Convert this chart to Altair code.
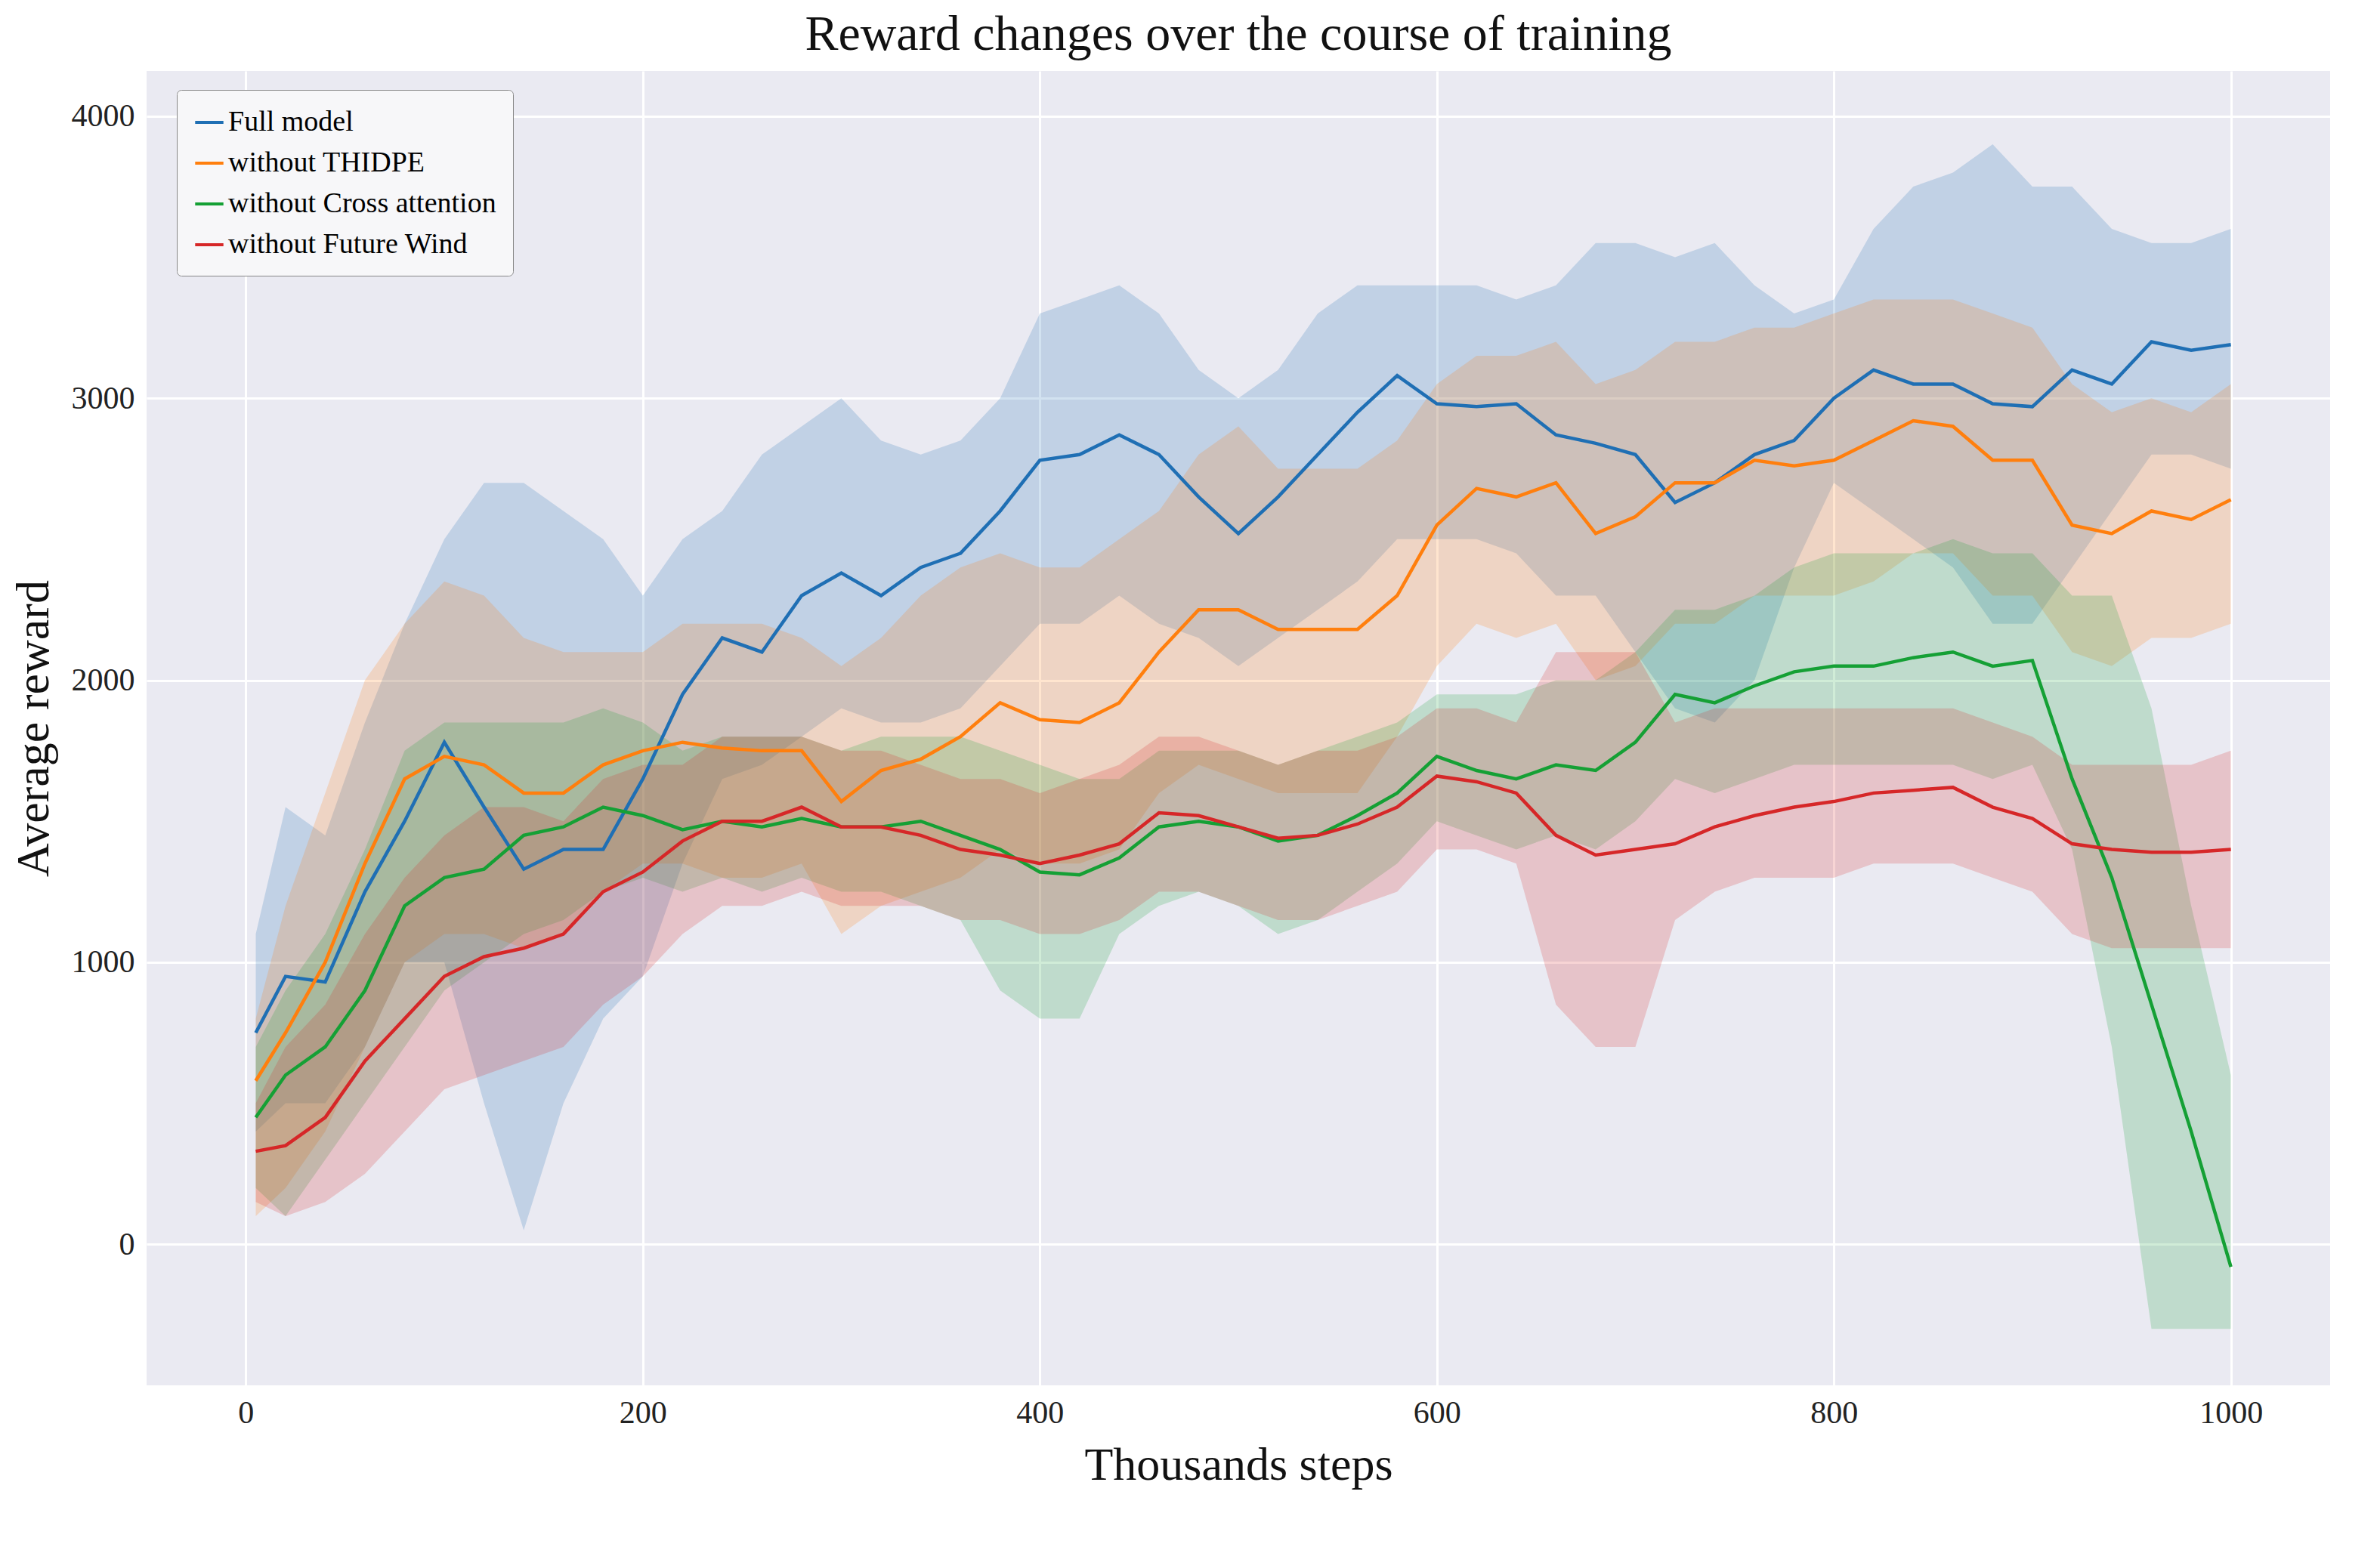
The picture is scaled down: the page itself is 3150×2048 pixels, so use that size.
import altair as alt
import pandas as pd

X = [5,20,40,60,80,100,120,140,160,180,200,220,240,260,280,300,320,340,360,380,400,420,440,460,480,500,
     520,540,560,580,600,620,640,660,680,700,720,740,760,780,800,820,840,860,880,900,920,940,960,980,1000]

full_mean = [750,950,930,1250,1500,1780,1550,1330,1400,1400,1650,1950,2150,2100,2300,2380,2300,2400,2450,2600,2780,2800,2870,2800,2650,2520,
             2650,2800,2950,3080,2980,2970,2980,2870,2840,2800,2630,2700,2800,2850,3000,3100,3050,3050,2980,2970,3100,3050,3200,3170,3190]
full_up = [1100,1550,1450,1850,2200,2500,2700,2700,2600,2500,2300,2500,2600,2800,2900,3000,2850,2800,2850,3000,3300,3350,3400,3300,3100,3000,
           3100,3300,3400,3400,3400,3400,3350,3400,3550,3550,3500,3550,3400,3300,3350,3600,3750,3800,3900,3750,3750,3600,3550,3550,3600]
full_lo = [400,500,500,700,1000,1000,500,50,500,800,950,1350,1650,1700,1800,1900,1850,1850,1900,2050,2200,2200,2300,2200,2150,2050,
           2150,2250,2350,2500,2500,2500,2450,2300,2300,2100,1900,1850,2000,2400,2700,2600,2500,2400,2200,2200,2400,2600,2800,2800,2750]

th_mean = [580,750,1000,1350,1650,1730,1700,1600,1600,1700,1750,1780,1760,1750,1750,1570,1680,1720,1800,1920,1860,1850,1920,2100,2250,2250,
           2180,2180,2180,2300,2550,2680,2650,2700,2520,2580,2700,2700,2780,2760,2780,2850,2920,2900,2780,2780,2550,2520,2600,2570,2640]
th_up = [800,1200,1600,2000,2200,2350,2300,2150,2100,2100,2100,2200,2200,2200,2150,2050,2150,2300,2400,2450,2400,2400,2500,2600,2800,2900,
         2750,2750,2750,2850,3050,3150,3150,3200,3050,3100,3200,3200,3250,3250,3300,3350,3350,3350,3300,3250,3050,2950,3000,2950,3050]
th_lo = [100,200,400,700,1000,1100,1100,1050,1100,1250,1350,1350,1300,1300,1350,1100,1200,1250,1300,1400,1350,1350,1400,1600,1700,1650,
         1600,1600,1600,1800,2050,2200,2150,2200,2000,2050,2200,2200,2300,2300,2300,2350,2450,2450,2300,2300,2100,2050,2150,2150,2200]

ca_mean = [450,600,700,900,1200,1300,1330,1450,1480,1550,1520,1470,1500,1480,1510,1480,1480,1500,1450,1400,1320,1310,1370,1480,1500,1480,
           1430,1450,1520,1600,1730,1680,1650,1700,1680,1780,1950,1920,1980,2030,2050,2050,2080,2100,2050,2070,1650,1300,850,400,-80]
ca_up = [700,900,1100,1400,1750,1850,1850,1850,1850,1900,1850,1750,1800,1800,1800,1750,1800,1800,1800,1750,1700,1650,1650,1750,1750,1750,
         1700,1750,1800,1850,1950,1950,1950,2000,2000,2100,2250,2250,2300,2400,2450,2450,2450,2500,2450,2450,2300,2300,1900,1200,600]
ca_lo = [200,100,300,500,700,900,1000,1100,1150,1250,1300,1250,1300,1250,1300,1250,1250,1200,1150,900,800,800,1100,1200,1250,1200,
         1100,1150,1250,1350,1500,1450,1400,1450,1400,1500,1650,1600,1650,1700,1700,1700,1700,1700,1650,1700,1400,700,-300,-300,-300]

fw_mean = [330,350,450,650,800,950,1020,1050,1100,1250,1320,1430,1500,1500,1550,1480,1480,1450,1400,1380,1350,1380,1420,1530,1520,1480,
           1440,1450,1490,1550,1660,1640,1600,1450,1380,1400,1420,1480,1520,1550,1570,1600,1610,1620,1550,1510,1420,1400,1390,1390,1400]
fw_up = [500,700,850,1100,1300,1450,1550,1550,1500,1650,1700,1700,1800,1800,1800,1750,1750,1700,1650,1650,1600,1650,1700,1800,1800,1750,
         1700,1750,1750,1800,1900,1900,1850,2100,2100,2100,1850,1900,1900,1900,1900,1900,1900,1900,1850,1800,1700,1700,1700,1700,1750]
fw_lo = [150,100,150,250,400,550,600,650,700,850,950,1100,1200,1200,1250,1200,1200,1200,1150,1150,1100,1100,1150,1250,1250,1200,
         1150,1150,1200,1250,1400,1400,1350,850,700,700,1150,1250,1300,1300,1300,1350,1350,1350,1300,1250,1100,1050,1050,1050,1050]

names = ["Full model", "without THIDPE", "without Cross attention", "without Future Wind"]
colors = ["#1f6fb4", "#ff7f0e", "#15a035", "#d62728"]
series = [(full_mean, full_up, full_lo), (th_mean, th_up, th_lo), (ca_mean, ca_up, ca_lo), (fw_mean, fw_up, fw_lo)]

rows = []
for n, (m, u, l) in zip(names, series):
    for i, x in enumerate(X):
        rows.append({"x": x, "mean": m[i], "up": u[i], "lo": l[i], "model": n})
df = pd.DataFrame(rows)

font = "Liberation Serif"
xs = alt.Scale(domain=[-50, 1050], nice=False, zero=False)
ys = alt.Scale(domain=[-500, 4160], nice=False, zero=False)
col = alt.Color("model:N", scale=alt.Scale(domain=names, range=colors),
                legend=alt.Legend(title=None, orient="none", legendX=40, legendY=25,
                                  symbolType="stroke", symbolStrokeWidth=4, symbolSize=1400,
                                  labelFont=font, labelFontSize=38, rowPadding=14,
                                  fillColor="#f7f7f9", strokeColor="#888888", padding=22,
                                  cornerRadius=6, labelLimit=1000))

band = alt.Chart(df).mark_area(opacity=0.2).encode(
    x=alt.X("x:Q", scale=xs, title="Thousands steps",
            axis=alt.Axis(values=[0, 200, 400, 600, 800, 1000], format="d")),
    y=alt.Y("lo:Q", scale=ys, title="Average reward",
            axis=alt.Axis(values=[0, 1000, 2000, 3000, 4000], format="d")),
    y2="up:Q",
    color=alt.Color("model:N", scale=alt.Scale(domain=names, range=colors), legend=None),
)
line = alt.Chart(df).mark_line(strokeWidth=4.5).encode(
    x=alt.X("x:Q", scale=xs), y=alt.Y("mean:Q", scale=ys), color=col)

chart = (band + line).resolve_scale(color="independent").properties(
    width=2890, height=1740,
    background="white",
    title=alt.Title("Reward changes over the course of training", font=font, fontSize=66,
                    fontWeight="normal", color="#111111", offset=14),
).configure_view(fill="#EAEAF2", stroke=None).configure_axis(
    grid=True, gridColor="white", gridWidth=3, domain=False, ticks=False,
    labelFont=font, labelFontSize=42, labelColor="#222222", labelPadding=16,
    titleFont=font, titleFontSize=62, titleFontWeight="normal", titleColor="#111111", titlePadding=18,
)

chart.save("out.html", embed_options={"renderer": "svg", "actions": False})
